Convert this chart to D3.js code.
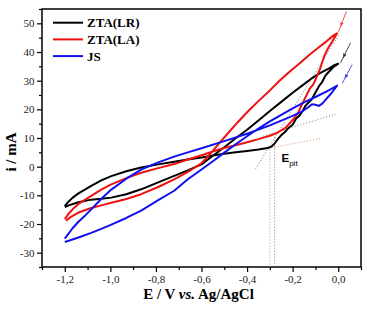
<!DOCTYPE html>
<html>
<head>
<meta charset="utf-8">
<script src="https://cdn.jsdelivr.net/npm/d3@7/dist/d3.min.js"></script>
<style>
body{margin:0;background:#fff;}
svg text{font-family:"Liberation Serif","Times New Roman",serif;}
</style>
</head>
<body>
<div id="container"></div>
<script>
const canvasWidth = 373;
const canvasHeight = 313;

let plotLeft = 42;
let plotRight = 361;
let plotTop = 9;
let plotBottom = 267;

// series names + colors
let seriesNames = ['ZTA(LR)','ZTA(LA)','JS'];
let seriesColors = ['#000000','#ee1111','#1010f0'];

// [E (V), i (mA)] forward scan then reverse scan
let ztaLR = [
  [-1.200,-13.8],[-1.185,-12.3],[-1.165,-10.8],[-1.140,-9.3],[-1.110,-7.9],[-1.084,-6.7],[-1.040,-4.8],
  [-0.996,-3.3],[-0.930,-1.6],[-0.865,-0.3],[-0.790,0.8],[-0.720,1.7],[-0.660,2.5],[-0.600,3.2],
  [-0.550,3.9],[-0.500,4.5],[-0.450,5.0],[-0.400,5.5],[-0.350,6.0],[-0.310,6.5],[-0.295,6.9],
  [-0.280,8.0],[-0.265,9.6],[-0.250,11.0],[-0.235,12.0],[-0.217,13.6],[-0.200,14.6],[-0.185,16.8],
  [-0.170,17.8],[-0.155,19.6],[-0.143,21.3],[-0.130,22.4],[-0.115,23.6],[-0.100,25.9],[-0.085,28.0],
  [-0.070,29.6],[-0.056,31.8],[-0.040,33.2],[-0.020,34.8],[0.000,35.9],
  [-0.015,35.5],[-0.040,34.3],[-0.080,32.6],[-0.120,30.6],[-0.160,28.2],[-0.200,25.8],[-0.250,22.6],
  [-0.300,19.4],[-0.350,16.1],[-0.400,12.9],[-0.450,9.9],[-0.500,6.8],[-0.550,3.8],[-0.600,0.8],
  [-0.660,-1.3],[-0.720,-3.2],[-0.790,-5.5],[-0.865,-7.9],[-0.930,-9.6],[-0.996,-10.8],[-1.040,-11.2],
  [-1.084,-11.5],[-1.140,-12.4],[-1.180,-13.4],[-1.200,-14.1]
];

let ztaLA = [
  [-1.200,-18.3],[-1.185,-16.6],[-1.165,-14.8],[-1.140,-13.0],[-1.110,-11.5],[-1.084,-10.2],[-1.040,-8.0],
  [-0.996,-6.2],[-0.930,-4.0],[-0.865,-2.1],[-0.790,-0.5],[-0.720,0.9],[-0.660,2.5],[-0.600,4.0],
  [-0.550,5.3],[-0.500,6.5],[-0.450,7.5],[-0.400,8.5],[-0.350,9.6],[-0.300,10.8],[-0.270,11.7],
  [-0.250,12.7],[-0.230,13.6],[-0.210,15.4],[-0.190,17.2],[-0.175,19.0],[-0.160,21.6],[-0.140,24.8],
  [-0.125,27.2],[-0.110,28.6],[-0.095,31.2],[-0.080,34.0],[-0.070,36.5],[-0.060,38.8],[-0.045,41.2],
  [-0.025,43.8],[-0.005,46.5],
  [-0.020,45.8],[-0.050,43.8],[-0.092,41.2],[-0.130,38.8],[-0.170,36.0],[-0.210,33.4],[-0.260,29.8],
  [-0.300,26.6],[-0.354,22.6],[-0.400,19.0],[-0.440,15.6],[-0.480,12.0],[-0.520,8.4],[-0.560,4.6],
  [-0.600,1.2],[-0.660,-1.8],[-0.720,-4.4],[-0.790,-7.1],[-0.865,-9.6],[-0.930,-11.3],[-0.996,-12.6],
  [-1.040,-13.5],[-1.084,-14.4],[-1.140,-16.0],[-1.175,-17.6],[-1.195,-18.9]
];

let js = [
  [-1.200,-25.1],[-1.185,-23.5],[-1.165,-21.4],[-1.140,-19.2],[-1.110,-17.0],[-1.084,-14.9],[-1.040,-11.3],
  [-0.996,-8.0],[-0.930,-4.2],[-0.865,-1.0],[-0.790,1.5],[-0.720,3.5],[-0.660,5.0],[-0.600,6.4],
  [-0.500,8.9],[-0.400,11.5],[-0.300,14.4],[-0.200,17.7],[-0.160,19.2],[-0.130,20.8],[-0.115,21.8],
  [-0.100,21.6],[-0.085,21.2],[-0.070,22.0],[-0.050,23.8],[-0.030,25.6],[-0.005,28.3],
  [-0.020,27.6],[-0.050,26.3],[-0.100,24.3],[-0.150,22.4],[-0.200,20.3],[-0.250,18.1],[-0.300,15.8],
  [-0.350,13.3],[-0.400,10.6],[-0.450,7.8],[-0.500,4.9],[-0.550,1.9],[-0.600,-1.0],[-0.660,-4.4],
  [-0.720,-8.4],[-0.790,-11.7],[-0.865,-15.3],[-0.930,-17.9],[-0.996,-20.2],[-1.040,-21.7],
  [-1.084,-23.1],[-1.140,-24.7],[-1.200,-26.3]
];

// scan direction arrows [start, end]
let arrowLR = [[0.054,43.2],[0.010,36.2]];
let arrowLA = [[0.036,54.2],[0.001,47.0]];
let arrowJS = [[0.061,35.6],[0.018,29.1]];

// Epit construction lines
let grayLines = [
  [[-0.362,-0.7],[0.001,45.8]],
  [[-0.330,10.6],[-0.012,18.3]],
  [[-0.279,11.5],[-0.279,-35]]
];
let brownLines = [
  [[-0.330,6.0],[-0.077,9.9]],
  [[-0.300,7.0],[-0.300,-35]]
];

let xMajor = [-1.2,-1.0,-0.8,-0.6,-0.4,-0.2,0.0];
let xMinor = [-1.3,-1.1,-0.9,-0.7,-0.5,-0.3,-0.1,0.1];
let yMajor = [-30,-20,-10,0,10,20,30,40,50];
let yMinor = [-35,-25,-15,-5,5,15,25,35,45,55];

let svg = d3.select('#container')
  .append('svg')
  .attr('width',canvasWidth)
  .attr('height',canvasHeight);

svg.append('rect').attr('width',canvasWidth).attr('height',canvasHeight).attr('fill','#fff');

let xScale = d3.scaleLinear().domain([-1.3,0.1]).range([plotLeft,plotRight]);
let yScale = d3.scaleLinear().domain([-35,55]).range([plotBottom,plotTop]);

function commaFormat(d){
  return d3.format('.1f')(d).replace('.',',').replace('−','-');
}

// axes
let xAxis = svg.append('g')
  .attr('transform','translate(0,'+plotBottom+')')
  .call(d3.axisBottom(xScale).tickValues(xMajor).tickSize(5).tickSizeOuter(0).tickFormat(commaFormat));
svg.append('g')
  .attr('transform','translate(0,'+plotBottom+')')
  .call(d3.axisBottom(xScale).tickValues(xMinor).tickSize(3).tickSizeOuter(0).tickFormat(''));

let yAxis = svg.append('g')
  .attr('transform','translate('+plotLeft+',0)')
  .call(d3.axisLeft(yScale).tickValues(yMajor).tickSize(5).tickSizeOuter(0).tickFormat(d3.format('d')));
svg.append('g')
  .attr('transform','translate('+plotLeft+',0)')
  .call(d3.axisLeft(yScale).tickValues(yMinor).tickSize(3).tickSizeOuter(0).tickFormat(''));

svg.selectAll('.domain').remove();
svg.selectAll('.tick line').attr('stroke','#000').attr('stroke-width',1.2);
svg.selectAll('.tick text')
  .style('font-family','"Liberation Serif",serif')
  .style('font-size','11px')
  .attr('fill','#222');
xAxis.selectAll('.tick text').attr('y',8.5);
yAxis.selectAll('.tick text').attr('x',-7.5).text(function(d){return d3.format('d')(d).replace('−','-');});

// frame
svg.append('rect')
  .attr('x',plotLeft).attr('y',plotTop)
  .attr('width',plotRight-plotLeft).attr('height',plotBottom-plotTop)
  .attr('fill','none').attr('stroke','#000').attr('stroke-width',1.5);

let line = d3.line()
  .x(function(d){return xScale(d[0]);})
  .y(function(d){return yScale(d[1]);});

// dotted construction lines
svg.selectAll('.grayDot').data(grayLines).enter()
  .append('path')
  .attr('class','grayDot')
  .attr('d',line)
  .attr('fill','none').attr('stroke','#666').attr('stroke-width',0.9).attr('stroke-dasharray','1,2');
svg.selectAll('.brownDot').data(brownLines).enter()
  .append('path')
  .attr('class','brownDot')
  .attr('d',line)
  .attr('fill','none').attr('stroke','#c8845a').attr('stroke-width',0.9).attr('stroke-dasharray','1,2');

// curves
let allSeries = [ztaLR,ztaLA,js];
svg.selectAll('.curve').data(allSeries).enter()
  .append('path')
  .attr('class','curve')
  .attr('d',line)
  .attr('fill','none')
  .attr('stroke',function(d,i){return seriesColors[i];})
  .attr('stroke-width',2)
  .attr('stroke-linejoin','round');

// arrows
let defs = svg.append('defs');
seriesColors.forEach(function(c,i){
  defs.append('marker')
    .attr('id','arr'+i)
    .attr('viewBox','0 0 10 10')
    .attr('refX',5).attr('refY',5)
    .attr('markerWidth',5).attr('markerHeight',5)
    .attr('orient','auto')
    .append('path').attr('d','M0,1L10,5L0,9Z').attr('fill',c);
});

let arrows = [arrowLR,arrowLA,arrowJS];
svg.selectAll('.arrow').data(arrows).enter()
  .append('path')
  .attr('class','arrow')
  .attr('d',function(d){
    let mid = [d[0][0]+(d[1][0]-d[0][0])*0.65, d[0][1]+(d[1][1]-d[0][1])*0.65];
    return line([d[0],mid,d[1]]);
  })
  .attr('fill','none')
  .attr('stroke',function(d,i){return seriesColors[i];})
  .attr('stroke-width',0.9)
  .attr('opacity',0.8)
  .attr('marker-mid',function(d,i){return 'url(#arr'+i+')';});

// legend
let legend = svg.append('g').attr('class','legend');
let legendItems = legend.selectAll('.item').data(seriesNames).enter()
  .append('g')
  .attr('class','item')
  .attr('transform',function(d,i){return 'translate(53,'+(22.7+i*16.7)+')';});
legendItems.append('line')
  .attr('x1',0).attr('x2',30).attr('y1',0).attr('y2',0)
  .attr('stroke',function(d,i){return seriesColors[i];})
  .attr('stroke-width',2);
legendItems.append('text')
  .attr('x',34).attr('y',4.5)
  .style('font-size','13px').style('font-weight','bold')
  .text(function(d){return d;});

// Epit label
let epit = svg.append('text')
  .attr('x',281.5).attr('y',162)
  .style('font-family','"Liberation Sans",Arial,sans-serif')
  .style('font-size','11.5px').style('font-weight','bold');
epit.append('tspan').text('E');
epit.append('tspan').attr('dy',3.5).style('font-size','8px').style('font-weight','normal').text('pit');

// axis titles
let xTitle = svg.append('text')
  .attr('x',(plotLeft+plotRight)/2-3).attr('y',298.5)
  .attr('text-anchor','middle')
  .style('font-size','15px').style('font-weight','bold');
xTitle.append('tspan').text('E / V ');
xTitle.append('tspan').style('font-style','italic').text('vs.');
xTitle.append('tspan').text(' Ag/AgCl');

svg.append('text')
  .attr('transform','translate(15.5,152) rotate(-90)')
  .attr('text-anchor','middle')
  .style('font-size','15px').style('font-weight','bold')
  .text('i / mA');
</script>
</body>
</html>
